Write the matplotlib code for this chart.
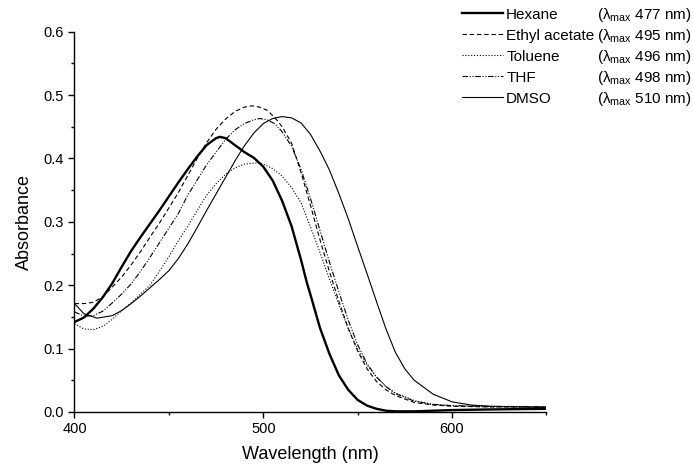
import matplotlib
matplotlib.use("Agg")
import matplotlib.pyplot as plt
from matplotlib.ticker import MultipleLocator

plt.rcParams['font.family'] = ['Liberation Sans', 'DejaVu Sans']
plt.rcParams['mathtext.default'] = 'regular'

# absorption spectra (wavelength in nm, absorbance)
wl_hexane = [400, 405, 410, 415, 420, 425, 430, 435, 440, 445, 450, 455, 460, 465, 470, 475, 477,
             480, 485, 490, 495, 500, 505, 510, 515, 520, 523, 525, 530, 535, 540, 545, 550, 555,
             560, 565, 570, 580, 600, 620, 650]
abs_hexane = [0.142, 0.149, 0.163, 0.181, 0.203, 0.229, 0.254, 0.276, 0.297, 0.318, 0.340, 0.362,
              0.383, 0.403, 0.421, 0.432, 0.434, 0.432, 0.421, 0.410, 0.401, 0.387, 0.365, 0.333,
              0.293, 0.240, 0.205, 0.185, 0.133, 0.092, 0.058, 0.035, 0.019, 0.010, 0.005, 0.002,
              0.001, 0.001, 0.003, 0.004, 0.005]

wl_ea = [400, 405, 410, 415, 420, 425, 430, 435, 440, 445, 450, 455, 460, 465, 470, 475, 480, 485,
         490, 494, 498, 502, 506, 510, 515, 520, 525, 530, 535, 540, 545, 550, 555, 560, 565, 570,
         580, 590, 600, 620, 650]
abs_ea = [0.171, 0.171, 0.173, 0.182, 0.197, 0.213, 0.232, 0.253, 0.276, 0.298, 0.322, 0.346,
          0.373, 0.400, 0.425, 0.446, 0.462, 0.474, 0.481, 0.483, 0.481, 0.476, 0.465, 0.450,
          0.424, 0.378, 0.326, 0.272, 0.222, 0.175, 0.132, 0.096, 0.068, 0.048, 0.035, 0.026,
          0.015, 0.011, 0.009, 0.008, 0.008]

wl_tol = [400, 405, 410, 415, 420, 425, 430, 435, 440, 445, 450, 455, 460, 465, 470, 475, 480, 485,
          490, 496, 500, 505, 510, 515, 520, 525, 530, 535, 540, 545, 550, 555, 560, 565, 570, 580,
          590, 600, 620, 650]
abs_tol = [0.139, 0.131, 0.130, 0.135, 0.146, 0.160, 0.172, 0.186, 0.200, 0.222, 0.245, 0.270,
           0.293, 0.318, 0.342, 0.360, 0.375, 0.385, 0.391, 0.393, 0.391, 0.384, 0.372, 0.354,
           0.330, 0.292, 0.252, 0.210, 0.170, 0.132, 0.099, 0.074, 0.055, 0.040, 0.030, 0.018,
           0.012, 0.010, 0.008, 0.008]

wl_thf = [400, 405, 410, 415, 420, 425, 430, 435, 440, 445, 450, 455, 460, 465, 470, 475, 480, 485,
          490, 495, 498, 502, 506, 510, 515, 520, 525, 530, 535, 540, 545, 550, 555, 560, 565, 570,
          580, 590, 600, 620, 650]
abs_thf = [0.158, 0.151, 0.152, 0.159, 0.172, 0.186, 0.202, 0.222, 0.244, 0.267, 0.290, 0.313,
           0.342, 0.366, 0.390, 0.410, 0.430, 0.445, 0.455, 0.461, 0.463, 0.461, 0.455, 0.442,
           0.419, 0.383, 0.337, 0.287, 0.237, 0.190, 0.145, 0.106, 0.076, 0.055, 0.040, 0.029,
           0.017, 0.012, 0.010, 0.009, 0.008]

wl_dmso = [400, 405, 412, 420, 425, 430, 435, 440, 445, 450, 455, 460, 465, 470, 475, 480, 485,
           490, 495, 500, 505, 510, 515, 520, 525, 530, 535, 540, 545, 550, 555, 560, 565, 570,
           575, 580, 590, 600, 610, 620, 650]
abs_dmso = [0.171, 0.155, 0.148, 0.152, 0.160, 0.171, 0.183, 0.196, 0.209, 0.223, 0.242, 0.265,
            0.291, 0.318, 0.344, 0.370, 0.396, 0.420, 0.440, 0.455, 0.463, 0.466, 0.464, 0.456,
            0.438, 0.412, 0.382, 0.345, 0.305, 0.261, 0.218, 0.174, 0.131, 0.094, 0.068, 0.050,
            0.028, 0.016, 0.011, 0.009, 0.007]

names = ["Hexane", "Ethyl acetate", "Toluene", "THF", "DMSO"]
lmax = [477, 495, 496, 498, 510]

fig = plt.figure(figsize=(6.93, 4.76), dpi=100)
ax = fig.add_axes([0.1075, 0.1345, 0.681, 0.799])

l1, = ax.plot(wl_hexane, abs_hexane, color='black', lw=1.7)
l2, = ax.plot(wl_ea, abs_ea, color='black', lw=0.8, dashes=[4, 2.5])
l3, = ax.plot(wl_tol, abs_tol, color='black', lw=0.8, dashes=[1, 1.6])
l4, = ax.plot(wl_thf, abs_thf, color='black', lw=0.8, dashes=[5, 1.5, 1, 1.5, 1, 1.5])
l5, = ax.plot(wl_dmso, abs_dmso, color='black', lw=0.8)

ax.set_xlim(400, 650)
ax.set_ylim(0, 0.6)
ax.xaxis.set_major_locator(MultipleLocator(100))
ax.xaxis.set_minor_locator(MultipleLocator(50))
ax.yaxis.set_major_locator(MultipleLocator(0.1))
ax.yaxis.set_minor_locator(MultipleLocator(0.05))
ax.yaxis.set_major_formatter(matplotlib.ticker.FormatStrFormatter('%.1f'))
ax.spines['top'].set_visible(False)
ax.spines['right'].set_visible(False)
ax.spines['left'].set_linewidth(1.0)
ax.spines['bottom'].set_linewidth(1.0)
ax.tick_params(which='major', direction='out', length=4, width=1.0, labelsize=10.5)
ax.tick_params(which='minor', direction='out', length=2.5, width=1.0)
ax.set_xlabel("Wavelength (nm)", fontsize=13, labelpad=7)
ax.set_ylabel("Absorbance", fontsize=13, labelpad=8)

leg = fig.legend([l1, l2, l3, l4, l5], names, loc='upper left',
                 bbox_to_anchor=(0.667, 0.984), frameon=False, fontsize=11,
                 handlelength=2.68, handletextpad=0.2, labelspacing=0.46,
                 borderpad=0, borderaxespad=0)

fig.canvas.draw()
inv = fig.transFigure.inverted()
for t, lm in zip(leg.get_texts(), lmax):
    bb = t.get_window_extent()
    yc = inv.transform((0, (bb.y0 + bb.y1) / 2))[1]
    fig.text(0.862, yc, "(λ$_{max}$ " + str(lm) + " nm)", fontsize=11, va='center', ha='left')

fig.savefig("out.png", dpi=100)
